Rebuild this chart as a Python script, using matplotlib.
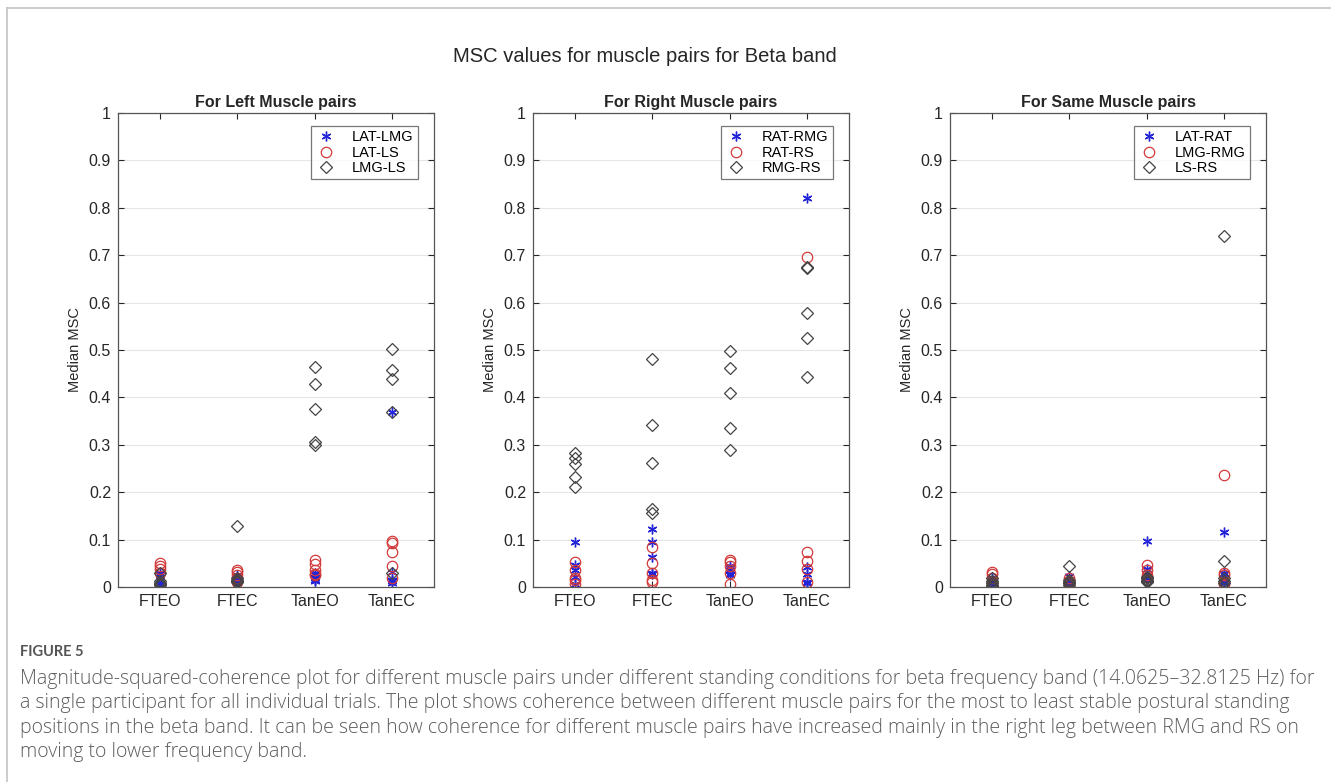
from __future__ import annotations

import matplotlib

matplotlib.use("Agg")

import matplotlib.pyplot as plt
from matplotlib.lines import Line2D

CONDITIONS = ["FTEO", "FTEC", "TanEO", "TanEC"]

# 5 trials per condition, one list per condition (FTEO, FTEC, TanEO, TanEC)
LEFT_LABELS = ["LAT-LMG", "LAT-LS", "LMG-LS"]
LAT_LMG = [
    [0.030, 0.025, 0.012, 0.008, 0.005],
    [0.025, 0.020, 0.015, 0.012, 0.008],
    [0.030, 0.025, 0.020, 0.015, 0.012],
    [0.370, 0.032, 0.014, 0.012, 0.008],
]
LAT_LS = [
    [0.050, 0.044, 0.037, 0.030, 0.005],
    [0.035, 0.032, 0.025, 0.018, 0.011],
    [0.058, 0.049, 0.035, 0.028, 0.025],
    [0.098, 0.093, 0.074, 0.044, 0.020],
]
LMG_LS = [
    [0.030, 0.012, 0.008, 0.006, 0.004],
    [0.128, 0.020, 0.015, 0.012, 0.010],
    [0.465, 0.428, 0.375, 0.305, 0.300],
    [0.503, 0.457, 0.438, 0.370, 0.030],
]

RIGHT_LABELS = ["RAT-RMG", "RAT-RS", "RMG-RS"]
RAT_RMG = [
    [0.094, 0.046, 0.035, 0.021, 0.007],
    [0.122, 0.095, 0.063, 0.030, 0.028],
    [0.045, 0.040, 0.035, 0.028, 0.025],
    [0.820, 0.042, 0.027, 0.011, 0.008],
]
RAT_RS = [
    [0.053, 0.035, 0.020, 0.014, 0.006],
    [0.084, 0.051, 0.030, 0.014, 0.011],
    [0.057, 0.052, 0.045, 0.030, 0.007],
    [0.696, 0.074, 0.055, 0.037, 0.011],
]
RMG_RS = [
    [0.283, 0.272, 0.260, 0.233, 0.212],
    [0.480, 0.342, 0.262, 0.165, 0.156],
    [0.498, 0.462, 0.410, 0.336, 0.290],
    [0.675, 0.672, 0.578, 0.526, 0.442],
]

SAME_LABELS = ["LAT-RAT", "LMG-RMG", "LS-RS"]
LAT_RAT = [
    [0.018, 0.011, 0.008, 0.005, 0.003],
    [0.023, 0.012, 0.010, 0.008, 0.005],
    [0.097, 0.039, 0.025, 0.018, 0.014],
    [0.115, 0.030, 0.028, 0.011, 0.008],
]
LMG_RMG = [
    [0.032, 0.028, 0.018, 0.011, 0.004],
    [0.018, 0.012, 0.010, 0.008, 0.005],
    [0.046, 0.035, 0.025, 0.021, 0.015],
    [0.236, 0.030, 0.025, 0.011, 0.006],
]
LS_RS = [
    [0.020, 0.012, 0.008, 0.005, 0.003],
    [0.044, 0.015, 0.010, 0.008, 0.005],
    [0.022, 0.018, 0.014, 0.012, 0.010],
    [0.740, 0.055, 0.020, 0.012, 0.008],
]

PANEL_TITLES = ["For Left Muscle pairs", "For Right Muscle pairs", "For Same Muscle pairs"]
SUPTITLE = "MSC values for muscle pairs for Beta band"

CAPTION_HEAD = "FIGURE 5"
CAPTION_LINES = [
    "Magnitude-squared-coherence plot for different muscle pairs under different standing "
    "conditions for beta frequency band (14.0625\u201332.8125 Hz) for",
    "a single participant for all individual trials. The plot shows coherence between different "
    "muscle pairs for the most to least stable postural standing",
    "positions in the beta band. It can be seen how coherence for different muscle pairs have "
    "increased mainly in the right leg between RMG and RS on",
    "moving to lower frequency band.",
]

W, H = 1331, 782
AX_COLOR = "#262626"
STYLES = [
    dict(marker=(6, 2, 0), color="#2323d8", ms=7, mfc="#2323d8", mew=1.0),
    dict(marker="o", color="#d23a3a", ms=7.5, mfc="none", mew=0.9),
    dict(marker="D", color="#444444", ms=5.8, mfc="none", mew=0.9),
]


def draw_panel(ax, series, labels, title):
    for vals, st in zip(series, STYLES):
        for i, trial in enumerate(vals):
            ax.plot(
                [i + 1] * len(trial),
                trial,
                linestyle="none",
                marker=st["marker"],
                markersize=st["ms"],
                markeredgecolor=st["color"],
                markerfacecolor=st["mfc"],
                markeredgewidth=st["mew"],
            )
    ax.set_xlim(0.45, 4.55)
    ax.set_ylim(0, 1)
    ax.set_xticks(range(1, 5))
    ax.set_xticklabels(CONDITIONS, fontsize=11.5)
    ax.set_yticks([i / 10 for i in range(11)])
    ax.set_yticklabels(["0"] + [f"{i / 10:.1f}" for i in range(1, 10)] + ["1"], fontsize=11.5)
    ax.yaxis.grid(True, color="#e6e6e6", lw=0.8)
    ax.set_axisbelow(True)
    ax.tick_params(direction="in", length=4, width=0.8, colors=AX_COLOR,
                   top=True, right=True, pad=5)
    for sp in ax.spines.values():
        sp.set_color("#555555")
        sp.set_linewidth(0.9)
    ax.set_ylabel("Median MSC", fontsize=10.5, color=AX_COLOR, labelpad=5)
    ax.set_title(title, fontsize=11.5, fontweight="bold", color=AX_COLOR, pad=4)

    handles = [
        Line2D([], [], linestyle="none", marker=st["marker"], markersize=st["ms"],
               markeredgecolor=st["color"], markerfacecolor=st["mfc"],
               markeredgewidth=st["mew"])
        for st in STYLES
    ]
    leg = ax.legend(handles, labels, loc="upper right", bbox_to_anchor=(0.95, 0.973),
                    fontsize=10.5, frameon=True, fancybox=False, edgecolor="#555555",
                    handlelength=1.4, handletextpad=1.1, borderpad=0.3,
                    labelspacing=0.1, borderaxespad=0.0)
    leg.get_frame().set_linewidth(0.9)


def main() -> None:
    plt.rcParams["font.family"] = ["Liberation Sans", "DejaVu Sans"]
    fig = plt.figure(figsize=(W / 100, H / 100), dpi=100)

    lefts = [118, 533, 950]
    panels = [
        ([LAT_LMG, LAT_LS, LMG_LS], LEFT_LABELS),
        ([RAT_RMG, RAT_RS, RMG_RS], RIGHT_LABELS),
        ([LAT_RAT, LMG_RMG, LS_RS], SAME_LABELS),
    ]
    for left, (series, labels), title in zip(lefts, panels, PANEL_TITLES):
        ax = fig.add_axes([left / W, 1 - 587 / H, 316 / W, 474 / H])
        draw_panel(ax, series, labels, title)

    fig.text(645 / W, 1 - 57 / H, SUPTITLE, ha="center", va="center",
             fontsize=14.5, color=AX_COLOR)

    # outer frame of the figure panel
    fig.add_artist(Line2D([7 / W, 7 / W], [0, 1 - 8 / H], transform=fig.transFigure,
                          color="#c8c8c8", lw=1.3))
    fig.add_artist(Line2D([7 / W, 1], [1 - 8 / H, 1 - 8 / H], transform=fig.transFigure,
                          color="#c8c8c8", lw=1.3))

    cap_font = ["Open Sans", "DejaVu Sans"]
    fig.text(20 / W, 1 - 652 / H, CAPTION_HEAD, ha="left", va="center", fontsize=10.5,
             color="#555555", family=["Lato", "DejaVu Sans"], fontweight="bold")

    # fit caption size so the first line spans the same width as in the figure
    renderer = fig.canvas.get_renderer()
    probe = fig.text(0, 0, CAPTION_LINES[0], fontsize=12, family=cap_font, fontweight="light")
    width_px = probe.get_window_extent(renderer).width
    probe.remove()
    cap_size = 12 * (1314 - 20) / width_px
    for k, line in enumerate(CAPTION_LINES):
        fig.text(20 / W, 1 - (679 + k * 24.3) / H, line, ha="left", va="center",
                 fontsize=cap_size, color="#5c5c5c", family=cap_font, fontweight="light")

    fig.savefig("out.png", dpi=100)
    plt.close(fig)


if __name__ == "__main__":
    main()
